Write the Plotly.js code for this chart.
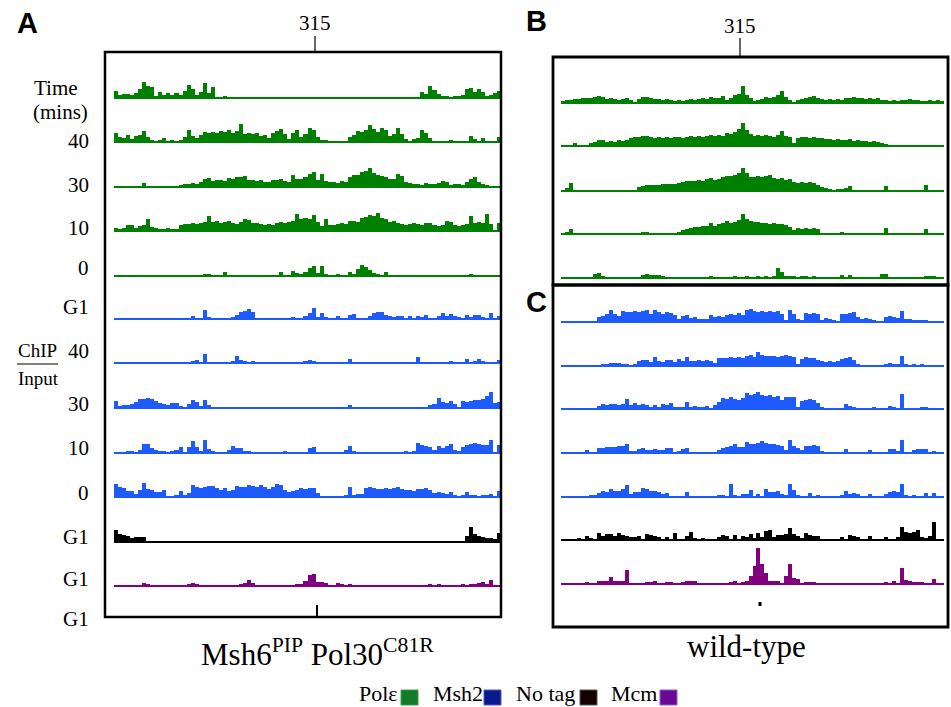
<!DOCTYPE html>
<html><head><meta charset="utf-8">
<script src="https://cdn.plot.ly/plotly-3.0.1.min.js"></script>
<style>html,body{margin:0;padding:0;background:#fff}</style>
</head><body><div id="chart" style="width:951px;height:707px"></div>
<script>
// ---------- DATA (signal height per genomic bin, ChIP/Input) ----------
// Panel A: Msh6PIP Pol30C81R
const polA_1 = [7,3,4,4,3,5,9,16,12,11,2,6, 3,5,3,5,3,7,13,9,3,6,15,5, 11,1,1,2,0,0,0,0,0,0,0,0, 0,0,0,0,0,0,0,0,0,0,0,0, 0,0,0,0,0,0,0,0,0,0,0,0, 0,0,0,0,0,0,0,0,0,0,0,0, 0,0,0,0,6,4,12,8,4,2,2,1, 2,2,3,9,10,6,9,6,2,3,5,7];
const polA_2 = [9,5,4,7,3,6,7,11,5,2,1,2, 4,1,2,1,2,5,12,6,4,7,10,9, 10,9,11,10,12,9,11,18,8,9,8,9, 6,7,4,9,11,13,8,3,9,12,5,8, 14,12,5,2,2,0,0,0,0,1,5,7, 11,10,12,17,13,10,14,12,6,8,14,8, 3,1,3,4,12,9,4,1,1,0,1,2, 1,0,1,1,6,3,1,4,1,0,1,5];
const polA_3 = [0,0,0,0,0,0,1,4,1,0,0,0, 0,0,0,1,2,3,3,4,3,5,8,9, 6,7,7,6,9,8,10,10,11,7,7,6, 7,5,5,7,7,8,6,5,12,8,8,10, 13,15,7,13,6,5,5,4,6,5,10,12, 12,15,16,19,14,12,11,10,8,8,13,11, 5,4,3,3,2,4,3,3,4,6,5,2, 3,3,2,5,8,10,5,3,2,1,1,1];
const polA_4 = [3,2,3,6,6,3,5,6,12,4,3,2, 2,3,2,2,6,7,7,8,7,8,9,15, 9,10,8,9,10,8,7,9,12,11,8,8, 7,6,7,6,8,9,8,9,10,17,12,13, 12,16,9,5,12,6,6,7,8,7,10,10, 9,13,14,16,15,18,13,12,9,10,8,7, 6,7,8,7,6,8,8,6,5,6,10,9, 6,5,6,7,15,8,9,8,17,7,0,8];
const polA_5 = [0,0,0,0,0,0,0,0,0,0,0,0, 0,0,0,0,0,0,0,0,0,0,2,2, 1,0,1,4,0,0,0,1,0,1,0,0, 1,0,0,0,1,4,1,0,5,3,2,4, 8,10,3,10,2,0,0,2,0,0,4,2, 7,11,9,6,3,2,1,4,1,1,0,0, 0,0,0,0,0,0,0,0,0,0,0,0, 0,0,0,0,2,0,0,0,0,0,0,0];
const msh2A_1 = [0,0,0,0,0,0,0,1,0,0,0,0, 0,0,0,0,0,0,0,3,1,0,9,2, 0,0,0,0,1,2,4,7,8,10,7,1, 0,0,1,0,0,0,1,0,2,0,0,3, 6,11,2,6,2,0,1,3,0,0,4,5, 0,1,0,3,6,7,7,4,3,2,3,3, 1,3,1,3,2,4,1,0,3,6,3,5, 3,2,1,4,2,4,4,2,1,6,1,3];
const msh2A_2 = [0,0,0,0,0,0,1,0,0,0,0,0, 0,0,0,0,0,0,0,2,3,0,9,1, 0,0,0,0,1,2,7,3,2,0,2,0, 0,0,0,0,0,0,1,0,0,0,1,2, 3,2,0,0,0,0,0,0,0,0,4,0, 0,0,0,0,0,0,0,0,0,0,0,0, 0,0,0,6,1,0,0,0,0,0,0,2, 0,0,0,4,0,2,4,2,0,0,0,3];
const msh2A_3 = [7,2,3,3,4,6,9,9,10,9,7,5, 4,3,5,5,2,0,4,8,6,2,8,3, 0,0,0,0,0,0,0,1,0,0,0,0, 0,0,0,0,0,0,0,0,0,0,0,0, 0,0,0,0,0,0,0,0,0,0,3,0, 0,0,0,0,0,0,0,0,0,0,0,0, 0,0,0,1,0,0,3,4,10,6,5,7, 4,1,7,6,7,8,8,9,12,16,5,6];
const msh2A_4 = [1,1,1,2,2,1,3,9,9,5,3,2, 2,1,2,3,6,1,6,12,6,2,13,4, 2,0,0,0,3,7,5,5,2,2,1,0, 0,0,0,0,0,1,2,0,0,1,0,0, 5,6,1,0,0,0,0,1,0,3,7,2, 0,0,0,0,1,0,0,0,0,0,0,0, 2,1,2,10,8,7,6,3,7,5,7,9, 3,2,6,8,9,10,9,8,8,13,0,8];
const msh2A_5 = [13,10,9,6,6,3,7,14,8,7,5,5, 7,1,1,2,6,2,4,12,10,9,10,11, 11,9,7,9,6,7,11,10,10,12,11,10, 12,10,8,10,13,12,7,5,6,7,9,8, 9,9,4,1,1,1,0,1,1,2,10,2, 3,3,9,10,9,8,8,9,8,9,10,8, 7,7,6,8,8,9,7,4,5,4,3,5, 2,1,2,5,2,2,1,2,2,3,1,6];
const notagA = [12,8,7,6,4,5,5,5,0,0,0,0, 0,0,0,0,0,0,0,0,0,0,0,0, 0,0,0,0,0,0,0,0,0,0,0,0, 0,0,0,0,0,0,0,0,0,0,0,0, 0,0,0,0,0,0,0,0,0,0,0,0, 0,0,0,0,0,0,0,0,0,0,0,0, 0,0,0,0,0,0,0,0,0,0,0,1, 0,0,0,6,15,8,6,5,4,4,3,9];
const mcmA = [0,0,0,0,0,0,0,3,2,0,0,0, 0,0,0,1,0,0,2,3,2,1,1,0, 0,0,0,0,0,0,1,2,3,6,3,1, 0,1,0,0,0,0,1,0,1,2,2,5, 11,12,4,4,3,0,0,3,2,1,2,1, 0,0,0,0,1,0,0,0,0,0,0,0, 0,0,0,0,0,0,2,0,2,1,0,1, 0,1,2,1,2,2,3,4,2,6,1,1];
// Panel B: wild-type Pol epsilon
const polB_1 = [2,3,3,4,4,5,5,5,6,7,6,4, 5,4,3,4,5,3,1,4,6,6,5,4, 4,3,4,3,2,3,2,3,4,3,4,5, 4,6,5,5,7,3,5,8,9,17,8,5, 2,3,4,6,5,6,8,12,6,3,1,3, 4,5,6,7,5,4,3,4,3,4,3,5, 5,6,5,5,4,5,4,5,3,3,2,3, 2,3,3,4,3,3,2,2,3,2,3,2];
const polB_2 = [0,0,0,3,1,1,1,3,4,6,6,4, 5,4,6,5,6,8,9,9,10,10,9,8, 9,8,9,8,9,9,8,9,10,9,10,9, 10,11,10,11,10,13,12,14,17,23,16,12, 10,11,10,11,10,9,11,15,10,9,3,8, 9,9,8,9,8,8,7,7,6,7,6,6, 7,5,6,5,5,4,5,4,3,2,0,0, 0,0,0,0,0,0,0,1,0,0,0,0];
const polB_3 = [0,3,8,0,0,0,0,0,0,0,0,0, 0,0,0,1,1,1,0,4,5,6,6,6, 6,7,7,7,7,8,9,10,10,10,11,10, 12,13,11,12,14,15,15,16,18,23,18,14, 14,15,14,15,16,13,12,13,11,12,9,8, 9,8,9,8,6,4,3,2,1,2,2,3, 5,1,0,0,0,0,0,0,0,5,0,0, 0,0,0,0,0,0,0,6,0,0,0,0];
const polB_4 = [0,2,5,0,0,0,0,0,0,0,0,0, 1,0,0,0,0,1,0,1,2,2,1,1, 1,0,1,1,1,2,4,5,6,7,7,8, 8,11,8,10,11,13,11,12,14,20,15,13, 12,12,11,11,10,11,10,10,9,7,4,6, 5,6,5,6,5,0,0,0,0,0,2,0, 0,1,0,0,0,0,0,0,0,6,0,0, 0,0,0,0,1,0,0,5,0,0,0,0];
const polB_5 = [0,0,0,1,0,0,0,0,4,5,2,0, 0,0,0,0,0,0,0,0,3,4,3,3, 3,2,0,0,0,0,0,0,0,0,0,0, 0,2,0,0,1,0,0,2,1,1,2,1, 1,2,1,2,1,2,10,6,2,2,2,1, 2,2,1,2,1,1,0,0,0,0,3,1, 3,1,0,1,0,0,0,0,4,4,0,0, 0,0,0,0,0,0,0,2,2,2,1,0];
// Panel C: wild-type Msh2, No tag, Mcm
const msh2C_1 = [0,0,0,0,0,0,1,0,1,5,6,8, 12,8,6,11,10,10,11,10,11,12,8,12, 10,8,10,9,7,3,6,7,4,5,3,3, 3,7,5,6,5,7,8,7,9,7,12,13, 11,10,11,10,11,10,11,8,2,12,8,3, 2,9,8,9,8,2,4,3,2,1,8,8, 9,10,5,3,4,3,2,1,1,5,6,5, 4,11,3,3,2,2,2,2,1,0,0,0];
const msh2C_2 = [0,0,0,0,0,0,0,0,0,0,2,2, 3,3,3,2,2,1,2,5,6,6,4,9, 5,4,6,6,4,7,5,9,5,5,6,5, 6,5,3,8,8,8,9,8,9,8,10,11, 9,14,11,10,10,10,9,10,11,10,9,2, 7,9,8,8,6,5,4,5,4,5,7,8, 9,6,2,0,0,1,0,0,0,2,3,2, 2,10,2,1,2,0,2,0,0,0,0,0];
const msh2C_3 = [0,0,0,0,0,0,0,0,0,3,5,4, 5,5,4,5,10,4,6,4,5,4,2,4, 2,5,4,6,2,2,2,7,2,3,2,2, 3,0,4,7,11,10,12,10,9,11,16,14, 15,17,14,13,14,12,13,9,12,12,12,2, 8,9,10,9,6,2,1,1,1,0,1,5, 3,2,0,0,0,0,2,0,0,1,3,2, 1,15,0,0,0,0,2,2,0,0,0,0];
const msh2C_4 = [0,0,0,0,0,0,3,1,1,5,5,6, 6,6,7,7,9,2,2,4,5,3,3,4, 3,3,5,5,1,2,4,5,0,0,0,0, 0,0,0,3,5,6,7,9,6,6,11,9, 9,10,12,10,9,9,8,7,3,13,7,5, 3,7,7,8,7,2,1,0,0,0,1,4, 1,1,0,0,0,3,0,0,0,0,4,4, 2,13,1,0,3,4,4,4,0,2,0,0];
const msh2C_5 = [1,0,0,0,0,0,0,2,2,4,6,5, 8,6,6,8,12,3,5,5,9,8,6,6, 5,3,4,1,0,0,0,5,0,0,0,0, 0,0,0,2,2,1,13,2,1,3,3,7, 1,3,1,8,5,5,6,3,2,13,7,2, 0,1,4,1,2,0,0,0,0,0,2,6, 3,4,3,0,0,3,0,0,0,3,5,6, 5,13,2,0,2,0,0,4,0,4,0,0];
const notagC = [0,0,0,0,2,0,4,2,0,7,4,6, 6,4,7,5,4,3,3,4,0,6,5,4, 3,0,3,1,7,0,0,4,8,2,0,2, 0,0,0,3,5,4,1,5,1,4,3,6, 2,7,3,9,10,3,5,5,6,12,6,4, 2,7,5,4,4,0,0,0,1,0,3,1, 5,4,3,1,0,4,0,1,1,3,0,0, 3,13,8,7,8,10,3,2,4,18,0,0];
const mcmC = [0,0,0,0,0,0,2,0,0,3,3,3, 7,3,3,3,14,0,0,0,1,2,2,3, 1,0,2,2,0,0,2,3,3,3,0,0, 0,0,0,0,0,0,2,3,1,2,3,8, 18,36,20,11,3,3,3,0,8,20,6,5, 1,2,2,2,1,0,0,0,0,0,0,0, 1,0,0,0,0,0,0,0,0,2,0,3, 0,16,4,3,2,2,2,0,0,5,0,0];

// Labels
const rowLabelsA = ["40","30","10","0","G1","40","30","10","0","G1","G1","G1"];
const panelTitleA = "Msh6<sup>PIP</sup> Pol30<sup>C81R</sup>";
const panelTitleBC = "wild-type";
const legendNames = ["Polε","Msh2","No tag","Mcm"];
const tickLabel = "315";

// ---------- LAYOUT / STYLE ----------
const W = 951, H = 707;
const px = x => x / W, py = y => 1 - y / H;
const GREEN = '#008000', BLUE = '#1d5bff', BLACK = '#000000', PURPLE = '#800080';
const SERIF = 'Liberation Serif, Times New Roman, serif';
const SANS = 'Liberation Sans, Arial, sans-serif';
const TRACK_H = 40;

const tracks = [
  // panel A
  {v: polA_1, c: GREEN, xa: 'x', b: 98},
  {v: polA_2, c: GREEN, xa: 'x', b: 142},
  {v: polA_3, c: GREEN, xa: 'x', b: 187},
  {v: polA_4, c: GREEN, xa: 'x', b: 231},
  {v: polA_5, c: GREEN, xa: 'x', b: 276},
  {v: msh2A_1, c: BLUE, xa: 'x', b: 319},
  {v: msh2A_2, c: BLUE, xa: 'x', b: 363},
  {v: msh2A_3, c: BLUE, xa: 'x', b: 408},
  {v: msh2A_4, c: BLUE, xa: 'x', b: 453},
  {v: msh2A_5, c: BLUE, xa: 'x', b: 497},
  {v: notagA, c: BLACK, xa: 'x', b: 542},
  {v: mcmA, c: PURPLE, xa: 'x', b: 586},
  // panel B
  {v: polB_1, c: GREEN, xa: 'x2', b: 103},
  {v: polB_2, c: GREEN, xa: 'x2', b: 146},
  {v: polB_3, c: GREEN, xa: 'x2', b: 191},
  {v: polB_4, c: GREEN, xa: 'x2', b: 234},
  {v: polB_5, c: GREEN, xa: 'x2', b: 278},
  // panel C
  {v: msh2C_1, c: BLUE, xa: 'x2', b: 322},
  {v: msh2C_2, c: BLUE, xa: 'x2', b: 366},
  {v: msh2C_3, c: BLUE, xa: 'x2', b: 409},
  {v: msh2C_4, c: BLUE, xa: 'x2', b: 453},
  {v: msh2C_5, c: BLUE, xa: 'x2', b: 497},
  {v: notagC, c: BLACK, xa: 'x2', b: 540},
  {v: mcmC, c: PURPLE, xa: 'x2', b: 584}
];

const NB = 96;
const layout = {
  width: W, height: H,
  margin: {l: 0, r: 0, t: 0, b: 0},
  paper_bgcolor: '#fff', plot_bgcolor: 'rgba(0,0,0,0)',
  showlegend: false, barmode: 'overlay', bargap: 0,
  xaxis: {domain: [px(114), px(501)], range: [-0.5, NB - 0.5], visible: false, fixedrange: true},
  xaxis2: {domain: [px(561), px(944)], range: [-0.5, NB - 0.5], visible: false, fixedrange: true, anchor: 'y13'},
  annotations: [], shapes: []
};

const data = [];
tracks.forEach((t, i) => {
  const yk = i === 0 ? 'yaxis' : 'yaxis' + (i + 1);
  const yid = i === 0 ? 'y' : 'y' + (i + 1);
  layout[yk] = {
    domain: [py(t.b), py(t.b - TRACK_H)], range: [0, TRACK_H], anchor: t.xa,
    showgrid: false, showticklabels: false, ticks: '', showline: false,
    zeroline: true, zerolinecolor: t.c, zerolinewidth: 1.6, fixedrange: true
  };
  data.push({
    type: 'bar', x: t.v.map((_, k) => k), y: t.v, xaxis: t.xa, yaxis: yid,
    width: 1, marker: {color: t.c, line: {width: 0}}, hoverinfo: 'skip', showlegend: false
  });
});

// frames
const frame = (x0, y0, x1, y1, w) => ({type: 'rect', xref: 'paper', yref: 'paper',
  x0: px(x0), x1: px(x1), y0: py(y0), y1: py(y1), line: {color: '#000', width: w}, fillcolor: 'rgba(0,0,0,0)'});
const seg = (x0, y0, x1, y1, w) => ({type: 'line', xref: 'paper', yref: 'paper',
  x0: px(x0), x1: px(x1), y0: py(y0), y1: py(y1), line: {color: '#000', width: w}});
layout.shapes.push(frame(105, 52, 501, 617, 2.5));
layout.shapes.push(frame(553, 57, 948, 285, 2.8));
layout.shapes.push(frame(553, 285, 948, 627, 2.8));
layout.shapes.push(seg(315, 36, 315, 52, 1.2));
layout.shapes.push(seg(740, 38, 740, 57, 1.2));
layout.shapes.push(seg(317, 605, 317, 616, 2));
layout.shapes.push(seg(760, 602, 760, 606, 3));
layout.shapes.push(seg(17, 364, 58, 364, 1));

// legend squares
const legCols = [['#127a28', '#3f9f46'], ['#0a1a8c', '#4a5ac8'], ['#140000', '#555'], ['#6a0a94', '#a050d0']];
const sqX = [401, 484, 580, 660];
legCols.forEach((c, i) => layout.shapes.push({type: 'rect', xref: 'paper', yref: 'paper',
  x0: px(sqX[i]), x1: px(sqX[i] + 17), y0: py(690), y1: py(705), fillcolor: c[0], line: {color: c[1], width: 1}}));

const ann = (text, x, y, size, xanchor, fam, weight) => layout.annotations.push({
  text, x: px(x), y: py(y), xref: 'paper', yref: 'paper', xanchor: xanchor || 'center', yanchor: 'middle',
  showarrow: false, font: {family: fam || SERIF, size, color: '#000', weight: weight || 'normal'}});

// row labels
ann('Time', 56, 88, 21);
ann('(mins)', 60, 112, 21);
const labelY = [141, 185, 228, 268, 307, 351, 404, 448, 493, 537, 579, 619];
rowLabelsA.forEach((t, i) => ann(t, 91, labelY[i], 21, 'right'));
ann('ChIP', 37, 350, 19);
ann('Input', 38, 378, 19);
// ticks labels
ann(tickLabel, 315, 23, 21);
ann(tickLabel, 740, 26, 21);
// panel letters
ann('A', 27, 23, 29, 'center', SANS, 'bold');
ann('B', 536, 21, 29, 'center', SANS, 'bold');
ann('C', 536, 302, 29, 'center', SANS, 'bold');
// panel titles
ann(panelTitleA, 317, 652, 31);
ann(panelTitleBC, 746, 646, 31);
// legend texts
const legX = [357, 431, 514, 609];
legendNames.forEach((t, i) => ann(t, legX[i], 693, 22, 'left'));

Plotly.newPlot('chart', data, layout, {staticPlot: true, displayModeBar: false});
</script></body></html>
